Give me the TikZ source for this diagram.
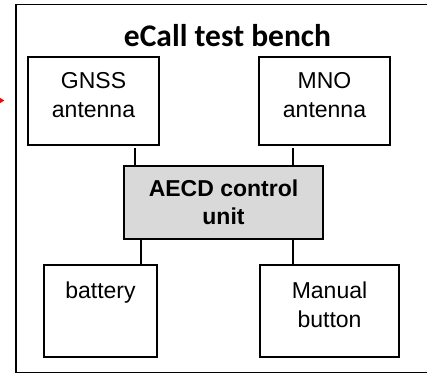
\documentclass[tikz,border=0pt]{standalone}
\usepackage{fontspec}
\setmainfont{Liberation Sans}
\newfontfamily\titlefont{Carlito}
\begin{document}
\begin{tikzpicture}[x=1pt,y=-1pt,
  box/.style={draw=black,line width=1.3pt,fill=white},
  link/.style={draw=black,line width=1.1pt},
  lbl/.style={font=\fontsize{23}{29}\selectfont,align=center,anchor=north}]
\useasboundingbox (0,0) rectangle (427,374);
% outer frame
\draw[line width=1.8pt] (440,4.5) -- (16,4.5) -- (16,372.5) -- (440,372.5);
% red arrow tip
\fill[red] (-2,96.5) -- (4.2,100.5) -- (-2,104.5) -- cycle;
% title
\node[font=\titlefont\bfseries\fontsize{31.5}{36}\selectfont] (title) at (227.5,36) {eCall test bench};
% boxes
\draw[box] (28,57) rectangle (159,145);
\node[lbl] (gnss) at (93.5,69) {GNSS\\antenna};
\draw[box] (259,57) rectangle (390,145);
\node[lbl] (mno) at (324.5,69) {MNO\\antenna};
\draw[box,fill={rgb,255:red,217;green,217;blue,217}] (124,166) rectangle (323,239);
\node[lbl,font=\bfseries\fontsize{23}{28}\selectfont] (aecd) at (223.5,176) {AECD control\\unit};
\draw[box] (44,265) rectangle (157,357);
\node[lbl] (batt) at (100.5,278) {battery};
\draw[box] (260,265) rectangle (399,357);
\node[lbl] (man) at (329.5,278) {Manual\\button};
% links
\draw[link] (135,148) -- (135,166);
\draw[link] (293,148) -- (293,166);
\draw[link] (141,239) -- (141,265);
\draw[link] (293,239) -- (293,265);
\end{tikzpicture}
\end{document}
